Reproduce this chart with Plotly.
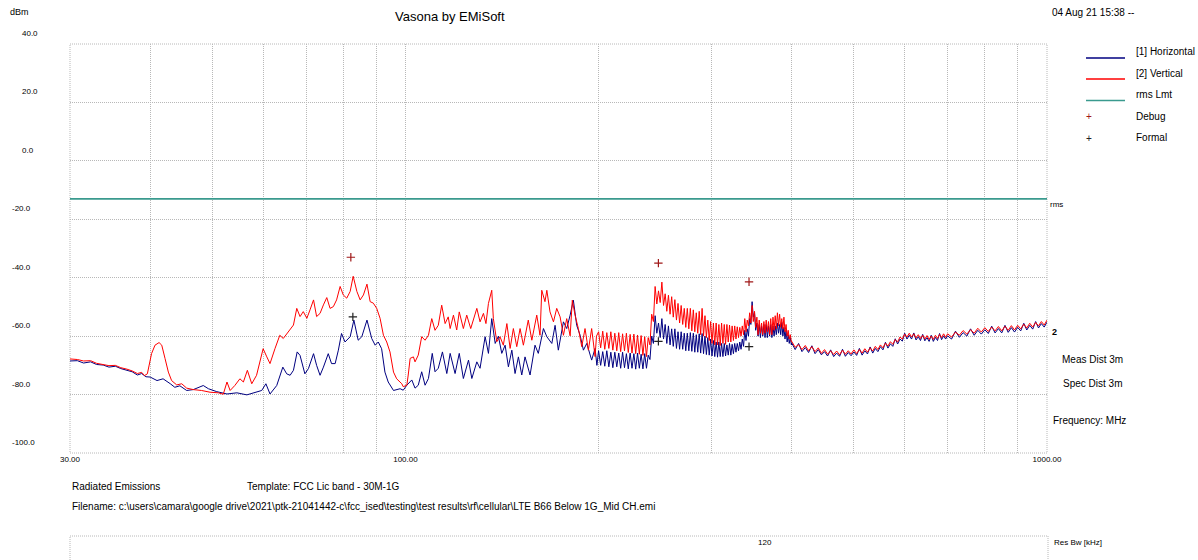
import math
import plotly.graph_objects as go

# ---------------- data ----------------
# Horizontal polarisation, 30-200 MHz (MHz, dBm)
h_freq_low = [
    30.0, 30.8, 31.5, 32.3, 33.0, 33.8, 34.5, 35.3, 36.0, 36.8,
    37.5, 38.2, 38.8, 39.4, 40.0, 41.0, 41.9, 43.0, 43.7, 44.5,
    45.6, 46.7, 48.4, 49.3, 50.8, 52.7, 54.6, 56.6, 58.6, 59.7,
    60.6, 61.5, 63.0, 64.4, 65.3, 66.1, 66.9, 67.8, 68.5, 69.7,
    70.6, 71.9, 72.7, 73.6, 74.5, 75.8, 76.7, 77.7, 78.6, 79.5,
    80.5, 82.0, 83.1, 84.4, 85.5, 87.1, 88.6, 89.7, 90.7, 91.8,
    92.9, 94.0, 95.8, 98.1, 99.2, 100.5, 102.3, 103.5, 104.7, 106.0,
    107.3, 108.6, 110.1, 111.2, 112.5, 114.2, 116.0, 117.4, 119.5, 121.3,
    123.1, 125.4, 126.9, 129.2, 130.7, 133.1, 134.7, 136.3, 138.0, 139.6,
    141.3, 143.0, 144.7, 146.5, 148.2, 150.0, 151.8, 153.6, 156.4, 159.2,
    161.1, 164.1, 166.1, 169.1, 171.1, 173.1, 176.3, 178.4, 180.6, 182.7,
    184.9, 187.2, 189.4, 191.7, 195.1, 197.5, 198.8,
]
h_dbm_low = [
    -68.5, -68.4, -69.2, -68.8, -69.7, -69.9, -70.6, -70.3, -71.1, -71.6,
    -72.2, -73.3, -72.8, -73.9, -74.0, -75.2, -74.6, -76.3, -77.5, -77.0,
    -78.6, -78.3, -76.9, -78.0, -79.0, -79.8, -79.4, -80.1, -79.2, -78.6,
    -76.3, -79.8, -76.9, -70.6, -72.9, -73.4, -71.7, -65.4, -66.6, -72.9,
    -71.1, -66.0, -70.0, -73.4, -70.6, -66.0, -69.4, -69.4, -64.8, -59.1,
    -62.0, -60.2, -54.5, -61.4, -60.2, -54.5, -60.8, -63.1, -62.0, -64.3,
    -72.3, -75.7, -78.6, -78.0, -78.5, -76.8, -75.0, -77.8, -76.8, -72.2,
    -76.8, -74.5, -65.9, -72.2, -71.0, -65.4, -72.8, -65.9, -72.8, -65.9,
    -74.5, -68.2, -74.5, -68.8, -71.0, -60.2, -65.9, -54.0, -62.5, -60.0,
    -65.9, -63.1, -70.5, -64.8, -72.8, -67.1, -73.3, -67.1, -73.3, -63.1,
    -65.9, -57.4, -60.2, -62.5, -56.3, -64.8, -55.1, -57.4, -52.8, -47.7,
    -56.3, -59.7, -64.8, -62.5, -68.2, -64.2, -70.0,
]

# Vertical polarisation, 30-200 MHz (MHz, dBm)
v_freq_low = [
    30.0, 30.8, 31.5, 32.3, 33.0, 33.8, 34.5, 35.3, 36.0, 36.8,
    37.5, 38.2, 38.8, 39.2, 39.6, 40.2, 40.7, 41.3, 41.7, 42.2,
    42.7, 43.2, 44.0, 44.8, 45.6, 46.7, 48.1, 49.6, 51.1, 52.0,
    52.7, 53.3, 54.2, 55.2, 55.9, 56.7, 57.6, 58.6, 60.0, 60.8,
    61.5, 62.6, 63.7, 64.5, 65.7, 66.9, 67.7, 68.5, 69.3, 70.2,
    71.0, 71.9, 72.7, 73.6, 74.5, 75.4, 76.3, 77.2, 78.1, 79.1,
    80.0, 81.0, 82.0, 82.9, 84.0, 85.0, 86.0, 87.1, 88.1, 89.1,
    90.2, 91.3, 92.4, 93.5, 94.6, 95.8, 96.9, 98.7, 99.2, 100.5,
    101.0, 101.7, 102.9, 103.5, 104.7, 106.0, 107.3, 108.6, 109.9, 111.2,
    112.5, 113.9, 115.3, 116.6, 117.4, 118.8, 120.2, 121.3, 123.1, 124.6,
    126.4, 129.2, 130.7, 132.3, 133.5, 134.7, 136.3, 137.1, 138.8, 140.4,
    142.1, 143.9, 145.6, 147.3, 149.1, 150.9, 152.7, 155.4, 157.4, 160.2,
    162.1, 163.1, 165.0, 166.1, 168.0, 170.1, 172.1, 174.2, 176.3, 178.4,
    180.6, 182.0, 183.8, 186.0, 188.3, 190.5, 192.8, 195.1, 197.5, 198.5,
]
v_dbm_low = [
    -67.8, -68.0, -68.5, -68.4, -69.3, -69.6, -70.1, -70.0, -70.8, -71.3,
    -71.9, -72.8, -72.4, -73.5, -72.9, -66.0, -63.1, -62.2, -63.1, -67.7,
    -72.3, -75.2, -76.7, -76.3, -77.8, -78.3, -78.6, -79.2, -79.4, -79.9,
    -75.7, -78.6, -76.9, -74.6, -75.7, -71.7, -76.3, -73.4, -64.3, -67.1,
    -69.4, -64.3, -59.7, -60.8, -58.5, -56.2, -50.5, -53.3, -51.6, -53.9,
    -51.0, -47.6, -53.3, -52.2, -49.3, -46.8, -50.5, -49.9, -47.6, -43.0,
    -45.9, -47.0, -44.7, -39.5, -44.7, -47.6, -45.9, -42.2, -48.2, -48.7,
    -50.5, -53.9, -59.7, -62.0, -65.4, -72.3, -74.6, -76.3, -77.3, -76.8,
    -73.3, -67.6, -67.1, -68.8, -66.5, -60.2, -61.4, -59.7, -54.0, -58.0,
    -56.3, -49.4, -55.7, -53.4, -57.4, -52.8, -57.9, -51.7, -57.4, -52.8,
    -57.4, -50.5, -55.1, -52.2, -55.7, -48.8, -44.3, -54.0, -61.9, -60.2,
    -63.1, -55.7, -64.2, -57.4, -63.6, -57.4, -63.1, -54.5, -61.4, -52.8,
    -59.7, -44.3, -48.2, -44.3, -51.7, -55.1, -50.5, -53.4, -59.7, -54.0,
    -59.9, -47.7, -52.8, -57.4, -63.6, -57.4, -64.8, -57.4, -67.0, -60.0,
]

# Sweep points 200-400 MHz (shared by both polarisations)
sweep_freq_mid = [
    200.0, 201.5, 203.0, 204.5, 206.0, 207.5, 209.0, 210.5, 212.0, 213.5,
    215.0, 216.5, 218.0, 219.5, 221.0, 222.5, 224.0, 225.5, 227.0, 228.5,
    230.0, 231.5, 233.0, 234.5, 236.0, 237.5, 239.0, 240.5, 242.0, 243.5,
    245.0, 246.5, 248.0, 249.5, 251.0, 252.5, 254.0, 255.5, 257.0, 258.5,
    260.0, 261.5, 263.0, 264.5, 266.0, 267.5, 269.0, 270.5, 272.0, 273.5,
    275.0, 276.5, 278.0, 279.5, 281.0, 282.5, 284.0, 285.5, 287.0, 288.5,
    290.0, 291.5, 293.0, 294.5, 296.0, 297.5, 299.0, 300.5, 302.0, 303.5,
    305.0, 306.5, 308.0, 309.5, 311.0, 312.5, 314.0, 315.5, 317.0, 318.5,
    320.0, 321.5, 323.0, 324.5, 326.0, 327.5, 329.0, 330.5, 332.0, 333.5,
    335.0, 336.5, 338.0, 339.5, 341.0, 342.5, 344.0, 345.5, 347.0, 348.5,
    350.0, 351.5, 353.0, 354.5, 356.0, 357.5, 359.0, 360.5, 362.0, 363.5,
    365.0, 366.5, 368.0, 369.5, 371.0, 372.5, 374.0, 375.5, 377.0, 378.5,
    380.0, 381.5, 383.0, 384.5, 386.0, 387.5, 389.0, 390.5, 392.0, 393.5,
    395.0, 396.5, 398.0, 399.5,
]
h_dbm_mid = [
    -65.0, -70.0, -65.3, -70.3, -65.0, -70.5, -65.5, -70.8, -65.5, -70.5,
    -65.8, -71.0, -65.5, -70.8, -66.0, -71.2, -65.8, -71.0, -66.0, -71.3,
    -65.8, -71.0, -66.2, -71.2, -66.0, -71.0, -66.5, -68.0, -60.0, -62.5,
    -53.0, -59.0, -55.5, -60.5, -54.0, -61.0, -56.0, -62.5, -56.5, -63.0,
    -57.5, -63.5, -57.5, -64.2, -58.5, -64.5, -58.5, -64.5, -59.0, -65.0,
    -59.0, -65.0, -58.8, -65.2, -59.0, -65.5, -59.5, -65.5, -59.2, -65.8,
    -59.1, -66.0, -60.0, -66.3, -60.5, -66.5, -61.0, -66.8, -61.5, -67.0,
    -62.0, -67.2, -62.0, -67.0, -62.5, -67.0, -62.5, -66.8, -63.0, -66.5,
    -62.5, -66.5, -62.8, -66.0, -62.5, -65.5, -62.5, -65.0, -62.0, -64.5,
    -61.0, -63.5, -58.0, -61.5, -57.5, -60.0, -54.0, -56.0, -48.2, -53.5,
    -52.0, -58.0, -55.5, -60.0, -56.0, -60.5, -56.5, -60.0, -56.0, -60.5,
    -56.0, -60.5, -56.5, -60.0, -56.0, -60.5, -56.5, -60.0, -56.5, -59.5,
    -55.5, -59.0, -56.0, -59.5, -55.3, -60.0, -57.0, -61.0, -58.0, -62.0,
    -59.5, -62.5, -60.5, -63.0,
]
v_dbm_mid = [
    -58.5, -64.0, -58.3, -64.5, -58.8, -64.2, -58.5, -64.8, -59.0, -65.0,
    -58.8, -65.3, -59.2, -65.0, -59.0, -65.6, -59.4, -65.8, -59.3, -66.0,
    -59.6, -66.2, -59.8, -66.6, -60.2, -67.0, -60.5, -63.0, -52.5, -55.0,
    -43.0, -49.0, -44.5, -48.5, -41.5, -49.5, -45.5, -51.5, -46.0, -52.5,
    -46.5, -53.5, -47.5, -54.5, -48.8, -55.5, -49.5, -56.0, -50.5, -57.0,
    -50.5, -57.5, -50.5, -58.2, -51.0, -58.5, -52.0, -59.0, -51.5, -59.5,
    -50.5, -60.0, -53.0, -60.5, -54.5, -61.5, -55.0, -62.5, -55.5, -63.0,
    -55.5, -63.0, -56.0, -63.2, -55.5, -62.5, -56.0, -62.8, -56.0, -62.0,
    -56.2, -62.0, -56.5, -61.5, -56.5, -61.0, -56.8, -60.5, -57.0, -60.0,
    -56.5, -59.5, -54.0, -58.5, -54.5, -56.5, -52.0, -55.5, -49.5, -55.0,
    -51.5, -57.0, -53.5, -59.5, -54.5, -59.0, -55.5, -59.5, -55.0, -59.0,
    -54.5, -58.5, -55.0, -59.5, -54.0, -59.5, -53.5, -58.0, -53.0, -57.5,
    -52.0, -56.5, -52.5, -57.0, -54.0, -57.5, -53.5, -58.5, -56.0, -60.0,
    -58.0, -61.0, -59.5, -62.0,
]

# Sweep points 400-1000 MHz (shared by both polarisations)
sweep_freq_high = [
    400, 405, 410, 415, 420, 425, 430, 435, 440, 445,
    450, 455, 460, 465, 470, 475, 480, 485, 490, 495,
    500, 505, 510, 515, 520, 525, 530, 535, 540, 545,
    550, 555, 560, 565, 570, 575, 580, 585, 590, 595,
    600, 605, 610, 615, 620, 625, 630, 635, 640, 645,
    650, 655, 660, 665, 670, 675, 680, 685, 690, 695,
    700, 710, 720, 730, 740, 750, 760, 770, 780, 790,
    800, 810, 820, 830, 840, 850, 860, 870, 880, 890,
    900, 910, 920, 930, 940, 950, 960, 970, 980, 990,
    1000,
]
h_dbm_high = [
    -62.3, -64.6, -62.5, -65.3, -63.9, -65.6, -63.3, -66.0, -64.6, -66.4,
    -65.3, -66.8, -64.7, -67.0, -65.8, -66.9, -64.5, -66.9, -65.6, -66.7,
    -65.4, -66.6, -64.2, -66.5, -65.0, -66.1, -63.7, -65.8, -64.2, -65.3,
    -63.6, -64.7, -62.1, -64.1, -62.6, -63.5, -60.9, -62.7, -61.0, -61.7,
    -59.0, -61.0, -59.7, -61.0, -58.9, -61.3, -60.2, -61.5, -59.4, -61.6,
    -60.5, -61.8, -59.7, -61.8, -60.4, -61.5, -59.1, -61.2, -59.9, -61.0,
    -59.9, -61.0, -58.3, -60.4, -58.8, -60.0, -57.5, -59.7, -58.0, -59.3,
    -57.8, -59.1, -56.6, -58.9, -57.4, -58.9, -56.3, -58.7, -57.1, -58.6,
    -57.0, -58.2, -55.6, -57.9, -56.3, -57.6, -55.0, -57.2, -55.7, -56.9,
    -55.2,
]
v_dbm_high = [
    -61.8, -63.8, -62.9, -64.6, -63.2, -65.0, -63.6, -65.3, -64.0, -65.9,
    -64.6, -66.2, -65.0, -66.3, -65.1, -66.4, -64.8, -66.2, -65.0, -66.1,
    -64.7, -66.0, -64.6, -65.8, -64.3, -65.5, -64.0, -65.1, -63.5, -64.6,
    -63.0, -64.0, -62.4, -63.4, -61.9, -62.8, -61.2, -62.0, -60.3, -61.0,
    -59.3, -60.3, -59.0, -60.3, -59.2, -60.6, -59.5, -60.8, -59.7, -61.0,
    -59.8, -61.1, -60.0, -61.1, -59.7, -60.8, -59.4, -60.5, -59.2, -60.4,
    -59.2, -60.3, -58.6, -59.7, -58.1, -59.3, -57.8, -59.0, -57.3, -58.6,
    -57.1, -58.4, -56.9, -58.2, -56.7, -58.2, -56.6, -58.0, -56.4, -57.9,
    -56.3, -57.5, -55.9, -57.2, -55.6, -56.9, -55.3, -56.5, -55.0, -56.2,
    -54.5,
]

# rms limit line
limit_freq = [30, 1000]
limit_dbm = [-13.0, -13.0]

# marker tables
debug_freq = [82.2, 247.9, 343.2]
debug_dbm = [-33.0, -35.0, -41.4]
formal_freq = [82.8, 247.9, 343.2]
formal_dbm = [-53.4, -61.8, -63.6]

# axes
y_ticks = [40, 20, 0, -20, -40, -60, -80, -100]
y_tick_text = ["40.0", "20.0", "0.0", "-20.0", "-40.0", "-60.0", "-80.0", "-100.0"]
x_grid = [30, 40, 50, 60, 70, 80, 90, 100, 200, 300, 400, 500, 600, 700, 800, 900, 1000]
x_labelled = {30: "30.00", 100: "100.00", 1000: "1000.00"}

assert len(h_freq_low) == len(h_dbm_low)
assert len(v_freq_low) == len(v_dbm_low)
assert len(sweep_freq_mid) == len(h_dbm_mid) == len(v_dbm_mid)
assert len(sweep_freq_high) == len(h_dbm_high) == len(v_dbm_high)

h_freq = h_freq_low + sweep_freq_mid + sweep_freq_high
h_dbm = h_dbm_low + h_dbm_mid + h_dbm_high
v_freq = v_freq_low + sweep_freq_mid + sweep_freq_high
v_dbm = v_dbm_low + v_dbm_mid + v_dbm_high

# ---------------- figure ----------------
NAVY = "#000080"
RED = "#ff0000"
TEAL = "#3a9a8e"
GRID = "#b8b8b8"
DOTS = "1px,1px"
FONT = "Liberation Sans, Arial, sans-serif"

fig = go.Figure()
fig.add_trace(go.Scatter(x=limit_freq, y=limit_dbm, mode="lines",
                         line=dict(color=TEAL, width=1.6), name="rms Lmt"))
fig.add_trace(go.Scatter(x=h_freq, y=h_dbm, mode="lines",
                         line=dict(color=NAVY, width=1), name="[1] Horizontal"))
fig.add_trace(go.Scatter(x=v_freq, y=v_dbm, mode="lines",
                         line=dict(color=RED, width=1), name="[2] Vertical"))
fig.add_trace(go.Scatter(x=debug_freq, y=debug_dbm, mode="markers", name="Debug",
                         marker=dict(symbol="cross-thin", size=6,
                                     line=dict(color="#a01818", width=1.2))))
fig.add_trace(go.Scatter(x=formal_freq, y=formal_dbm, mode="markers", name="Formal",
                         marker=dict(symbol="cross-thin", size=6,
                                     line=dict(color="#222222", width=1.2))))

# plot area pixel geometry helpers (layout positions only)
L, R, T, B = 70, 1047, 44, 453
W, H = R - L, B - T


def px(x):
    return (x - L) / W


def py(y):
    return (B - y) / H


annotations = []


def text(x, y, s, size=10, anchor="left", color="black", **kw):
    annotations.append(dict(xref="paper", yref="paper", x=px(x), y=py(y), text=s,
                            showarrow=False, xanchor=anchor, yanchor="middle",
                            font=dict(family=FONT, size=size, color=color), **kw))


# y tick labels (sit above their grid lines)
for v, s in zip(y_ticks, y_tick_text):
    left = 20 if v >= 0 else (9.5 if v <= -100 else 10)
    annotations.append(dict(xref="paper", yref="y", x=px(left), y=v, yshift=10.5,
                            text=s, showarrow=False, xanchor="left", yanchor="middle",
                            font=dict(family=FONT, size=8, color="black")))

text(8, 12, "dBm", size=9)
text(450, 17, "Vasona by EMiSoft", size=13, anchor="center")
text(1050, 12.5, "04 Aug 21 15:38 --", size=10)

# legend
legend_rows = [("[1] Horizontal", NAVY, 58, 52), ("[2] Vertical", RED, 79, 73),
               ("rms Lmt", TEAL, 100.5, 95)]
shapes = []
for label, col, yl, yt in legend_rows:
    shapes.append(dict(type="line", xref="paper", yref="paper", x0=px(1086), x1=px(1125),
                       y0=py(yl), y1=py(yl), line=dict(color=col, width=1.4)))
    text(1134, yt, label, size=10)
text(1088.7, 116.5, "+", size=10, anchor="center", color="#a01818")
text(1134, 116, "Debug", size=10)
text(1088.7, 138, "+", size=10, anchor="center", color="#222222")
text(1134, 137.5, "Formal", size=10)

text(1048, 204, "rms", size=8)
text(1050, 332, "<b>2</b>", size=9)
text(1060, 359, "Meas Dist 3m", size=10)
text(1061, 383, "Spec Dist 3m", size=10)
text(1051, 420, "Frequency: MHz", size=10)

text(70, 486, "Radiated Emissions", size=10)
text(245, 486, "Template: FCC Lic band - 30M-1G", size=10)
text(70, 506, "Filename: c:\\users\\camara\\google drive\\2021\\ptk-21041442-c\\fcc_ised\\testing"
     "\\test results\\rf\\cellular\\LTE B66 Below 1G_Mid CH.emi", size=10)
text(765, 542, "120", size=8, anchor="center")
text(1052, 542, "Res Bw [kHz]", size=8)

# plot border and lower band box
shapes.append(dict(type="rect", xref="paper", yref="paper", x0=0, x1=1, y0=0, y1=1,
                   line=dict(color=GRID, width=1, dash=DOTS), layer="below"))
shapes.append(dict(type="rect", xref="paper", yref="paper", x0=0, x1=px(1048),
                   y0=py(536), y1=py(580), line=dict(color=GRID, width=1, dash=DOTS)))

fig.update_layout(
    width=1198, height=560,
    margin=dict(l=L, r=1198 - R, t=T, b=560 - B, pad=0),
    paper_bgcolor="white", plot_bgcolor="white",
    showlegend=False,
    font=dict(family=FONT, size=10, color="black"),
    annotations=annotations, shapes=shapes,
    xaxis=dict(type="log", range=[math.log10(30), math.log10(1000)],
               tickvals=x_grid, ticktext=[x_labelled.get(v, "") for v in x_grid],
               showgrid=True, gridcolor=GRID, griddash=DOTS, gridwidth=1,
               zeroline=False, showline=False, ticks="",
               tickfont=dict(family=FONT, size=8, color="black")),
    yaxis=dict(range=[-100, 40], tickvals=y_ticks, showticklabels=False,
               showgrid=True, gridcolor=GRID, griddash=DOTS, gridwidth=1,
               zeroline=False, showline=False, ticks=""),
)

fig.write_html(
    "out.html",
    config={"displayModeBar": False},
    post_script="document.body.style.margin='0px';document.body.style.overflow='hidden';",
)
